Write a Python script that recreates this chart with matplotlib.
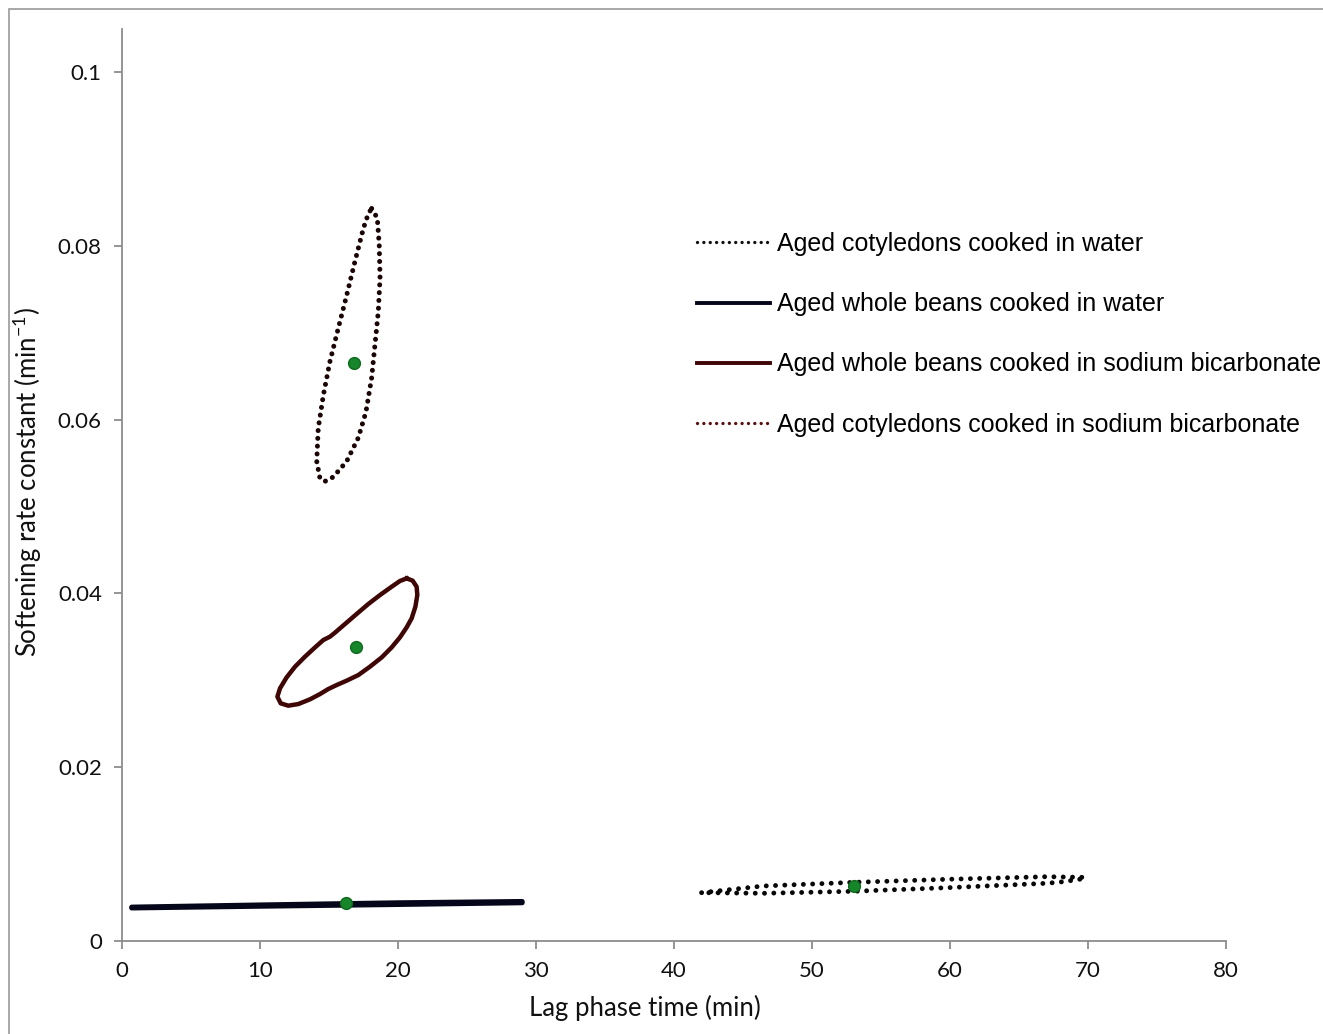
import numpy as np
import matplotlib
matplotlib.use("Agg")
import matplotlib.pyplot as plt
from matplotlib.lines import Line2D
from matplotlib.patches import Rectangle

# joint confidence region outlines (lag time in min, rate constant in 1/min)
cot_bicarb_x = [18.09, 18.50, 18.64, 18.70, 18.57, 18.33, 18.09, 17.68, 17.12, 16.28, 15.31,
                14.71, 14.35, 14.11, 14.22, 14.59, 15.07, 15.67, 16.28, 16.88, 17.49, 17.85]
cot_bicarb_y = [0.0843, 0.0832, 0.0801, 0.0763, 0.0724, 0.0686, 0.0648, 0.0609, 0.0579, 0.0552, 0.0534,
                0.0529, 0.0532, 0.0552, 0.0590, 0.0628, 0.0667, 0.0705, 0.0743, 0.0782, 0.0820, 0.0837]

whole_bicarb_x = [20.63, 21.06, 21.35, 21.40, 21.26, 20.99, 20.63, 20.14, 19.54, 18.82, 17.97, 17.13,
                  16.28, 15.56, 14.95, 14.35, 13.62, 12.78, 12.05, 11.50, 11.26, 11.45, 11.93, 12.54,
                  13.26, 13.99, 14.59, 15.07, 15.43, 16.16, 17.00, 17.85, 18.70, 19.54, 20.14]
whole_bicarb_y = [0.04173, 0.04147, 0.04077, 0.03982, 0.03847, 0.03713, 0.03610, 0.03494, 0.03379,
                  0.03264, 0.03157, 0.03061, 0.02996, 0.02946, 0.02900, 0.02842, 0.02781, 0.02727,
                  0.02708, 0.02735, 0.02812, 0.02908, 0.03034, 0.03157, 0.03272, 0.03379, 0.03464,
                  0.03502, 0.03548, 0.03648, 0.03763, 0.03878, 0.03982, 0.04077, 0.04143]

whole_water_x = [0.7, 10.0, 20.0, 29.0, 29.0, 20.0, 10.0, 0.7]
whole_water_y = [0.0039, 0.00415, 0.0044, 0.00455, 0.0044, 0.0042, 0.0040, 0.0038]

cot_water_x = [42.0, 46.47, 52.99, 59.76, 67.0, 69.64, 69.8, 68.2, 67.0, 59.76, 52.99, 46.47]
cot_water_y = [0.00556, 0.00633, 0.00675, 0.00710, 0.00740, 0.00733, 0.00720, 0.00682, 0.00664, 0.00613, 0.00572, 0.00549]

# best estimates
center_x = [16.83, 16.96, 16.23, 53.04]
center_y = [0.0665, 0.0338, 0.00434, 0.00636]

labels = ["Aged cotyledons cooked in water",
          "Aged whole beans cooked in water",
          "Aged whole beans cooked in sodium bicarbonate",
          "Aged cotyledons cooked in sodium bicarbonate"]

x_ticks = [0, 10, 20, 30, 40, 50, 60, 70, 80]
y_ticks = [0, 0.02, 0.04, 0.06, 0.08, 0.1]
y_tick_labels = ["0", "0.02", "0.04", "0.06", "0.08", "0.1"]

W, H = 1323, 1034
fig = plt.figure(figsize=(W / 100, H / 100), dpi=100)
ax = fig.add_axes([122 / W, 1 - 941 / H, (1226 - 122) / W, (941 - 28.6) / H])

maroon = "#3f0606"
navy = "#06061a"


def closed(xs, ys):
    return np.append(xs, xs[0]), np.append(ys, ys[0])


xs, ys = closed(cot_bicarb_x, cot_bicarb_y)
ax.plot(xs, ys, color="#1a0404", lw=3.6, linestyle=(0, (0.01, 1.55)), dash_capstyle="round")
xs, ys = closed(whole_bicarb_x, whole_bicarb_y)
ax.plot(xs, ys, color=maroon, lw=3.2, solid_joinstyle="round")
xs, ys = closed(whole_water_x, whole_water_y)
ax.fill(xs, ys, color=navy, lw=3.6, edgecolor=navy, joinstyle="round")
xs, ys = closed(cot_water_x, cot_water_y)
ax.plot(xs, ys, color="#080808", lw=3.5, linestyle=(0, (0.01, 1.9)), dash_capstyle="round")

ax.plot(center_x, center_y, "o", color="#17862a", markeredgecolor="#0f6a1e",
        markersize=8.5, linestyle="none", zorder=5)

ax.set_xlim(0, 80)
ax.set_ylim(0, 0.105)
ax.set_xticks(x_ticks)
ax.set_yticks(y_ticks)
ax.set_yticklabels(y_tick_labels)
for s in ["top", "right"]:
    ax.spines[s].set_visible(False)
for s in ["left", "bottom"]:
    ax.spines[s].set_color("#8c8c8c")
    ax.spines[s].set_linewidth(1.3)
ax.tick_params(direction="out", length=5.5, width=1.3, color="#8c8c8c",
               labelsize=16, labelcolor="#111111", pad=9)
for t in ax.get_xticklabels() + ax.get_yticklabels():
    t.set_family("Lato")

ax.set_xlabel("Lag phase time (min)", fontsize=18.5, family="Lato", color="#111111")
ax.xaxis.set_label_coords((645 - 122) / (1226 - 122), -0.059)
ax.set_ylabel("Softening rate constant (min$^{\\mathregular{-1}}$)", fontsize=18.5,
              family="Lato", color="#111111")
ax.yaxis.set_label_coords(-0.071, (941 - 482) / (941 - 28.6))

handles = [
    Line2D([], [], color="#101010", lw=2.4, linestyle=(0, (0.01, 1.9)), dash_capstyle="round"),
    Line2D([], [], color=navy, lw=2.8),
    Line2D([], [], color=maroon, lw=2.8),
    Line2D([], [], color="#5a1010", lw=2.4, linestyle=(0, (0.01, 1.9)), dash_capstyle="round"),
]
ax.legend(handles, labels, loc="upper left", bbox_to_anchor=(697 / W, 1 - 232 / H),
          bbox_transform=fig.transFigure, frameon=False, borderpad=0, borderaxespad=0,
          handlelength=2.92, handletextpad=0.28, labelspacing=1.45,
          prop={"family": "Liberation Sans", "size": 18})

fig.patches.append(Rectangle((9 / W, -0.01), 1.02, 1 - 9 / H + 0.01, transform=fig.transFigure,
                             fill=False, edgecolor="#9a9a9a", lw=1.2))

fig.savefig("out.png", dpi=100)
